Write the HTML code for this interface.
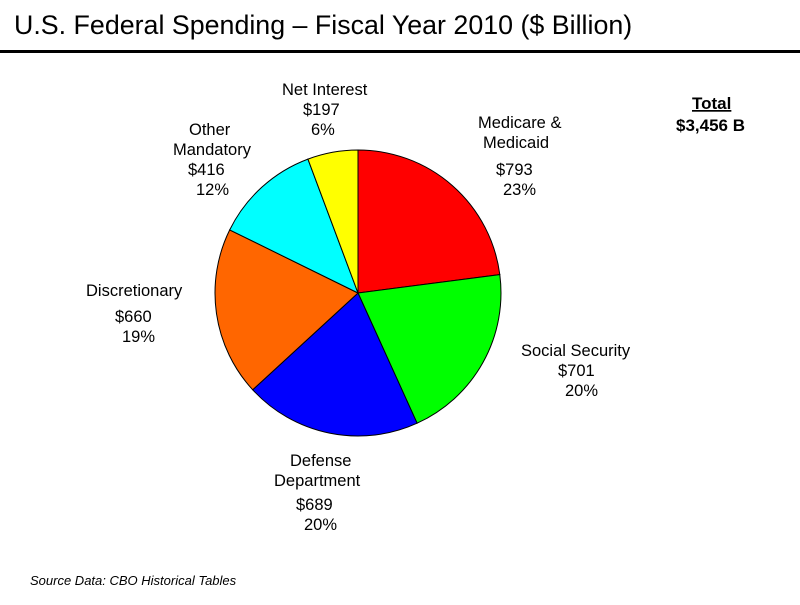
<!DOCTYPE html>
<html><head><meta charset="utf-8"><style>
body{margin:0;background:#fff;}
svg text{font-family:"Liberation Sans",Arial,sans-serif;}
</style></head><body>
<svg width="800" height="600" xmlns="http://www.w3.org/2000/svg">
<rect width="800" height="600" fill="#fff"/>
<text x="14" y="34" font-size="26.8" fill="#000">U.S. Federal Spending – Fiscal Year 2010 ($ Billion)</text>
<rect x="0" y="50" width="800" height="3" fill="#000"/>
<g stroke="#000" stroke-width="1">
<path d="M358,293 L358,150 A143,143 0 0,1 499.8,274.6 Z" fill="#ff0000"/>
<path d="M358,293 L499.8,274.6 A143,143 0 0,1 417.1,423.2 Z" fill="#00ff00"/>
<path d="M358,293 L417.1,423.2 A143,143 0 0,1 252.7,389.8 Z" fill="#0000ff"/>
<path d="M358,293 L252.7,389.8 A143,143 0 0,1 229.7,229.9 Z" fill="#ff6600"/>
<path d="M358,293 L229.7,229.9 A143,143 0 0,1 307.9,159.1 Z" fill="#00ffff"/>
<path d="M358,293 L307.9,159.1 A143,143 0 0,1 358,150 Z" fill="#ffff00"/>
</g>
<g font-size="16.5" fill="#000">
<text x="282" y="95">Net Interest</text>
<text x="303" y="115">$197</text>
<text x="311" y="135">6%</text>
<text x="189" y="135">Other</text>
<text x="173" y="155">Mandatory</text>
<text x="188" y="175">$416</text>
<text x="196" y="195">12%</text>
<text x="478" y="128">Medicare &amp;</text>
<text x="483" y="148">Medicaid</text>
<text x="496" y="175">$793</text>
<text x="503" y="195">23%</text>
<text x="86" y="296">Discretionary</text>
<text x="115" y="322">$660</text>
<text x="122" y="342">19%</text>
<text x="521" y="356">Social Security</text>
<text x="558" y="376">$701</text>
<text x="565" y="396">20%</text>
<text x="290" y="466">Defense</text>
<text x="274" y="486">Department</text>
<text x="296" y="510">$689</text>
<text x="304" y="530">20%</text>
</g>
<text x="692" y="109" font-size="17" font-weight="bold" text-decoration="underline">Total</text>
<text x="676" y="131" font-size="17" font-weight="bold">$3,456 B</text>
<text x="30" y="585" font-size="13" font-style="italic">Source Data:  CBO Historical Tables</text>
</svg>
</body></html>
